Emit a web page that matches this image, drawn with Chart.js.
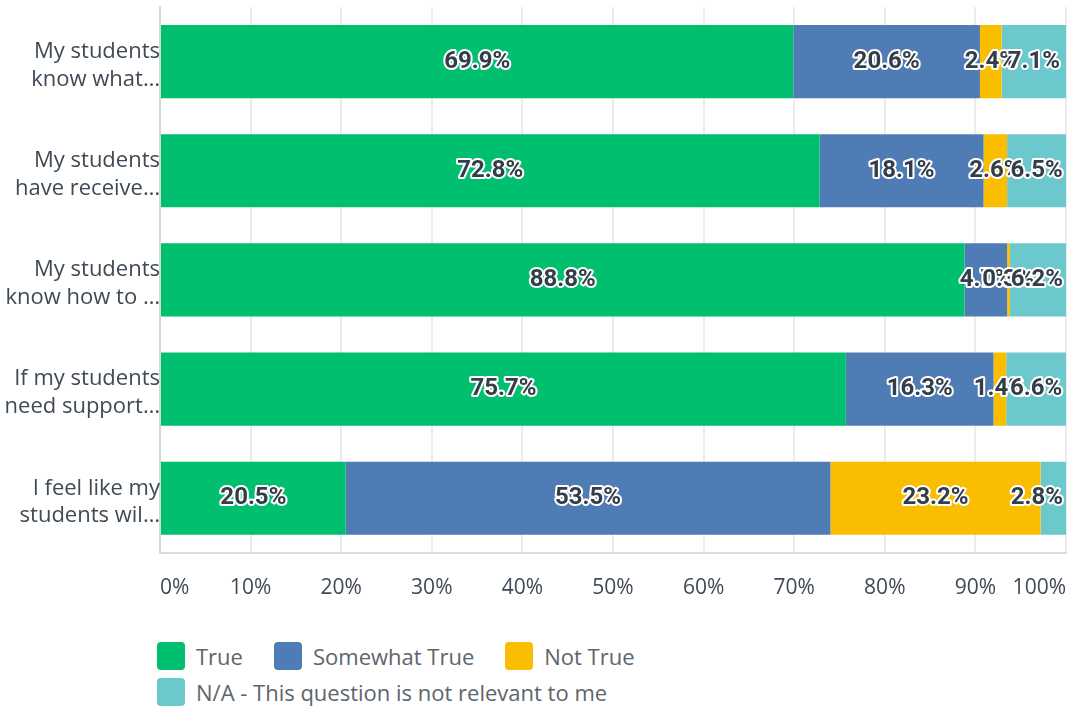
<!DOCTYPE html>
<html>
<head>
<meta charset="utf-8">
<script src="https://cdn.jsdelivr.net/npm/chart.js@4"></script>
<style>
    body { margin: 0; background: #fff; font-family: "Open Sans", sans-serif; }
    #wrap { position: relative; width: 1070px; height: 708px; }
    #chartBox { position: absolute; left: 0; top: 0; width: 1070px; height: 624px; }
    #legend { position: absolute; left: 157px; top: 641px; width: 520px; display: flex; flex-wrap: wrap; column-gap: 31px; row-gap: 7px; }
    .item { display: flex; align-items: center; height: 29px; font-size: 22px; color: #5d656d; }
    .swatch { width: 28px; height: 28px; border-radius: 4px; margin-right: 11px; }
</style>
</head>
<body>
<div id="wrap">
    <div id="chartBox"><canvas id="surveyChart"></canvas></div>
    <div id="legend"></div>
</div>
<script>
// Chart data
const questions = [
    ['My students', 'know what…'],
    ['My students', 'have receive…'],
    ['My students', 'know how to …'],
    ['If my students', 'need support…'],
    ['I feel like my', 'students wil…']
];
const answerLabels = ['True', 'Somewhat True', 'Not True', 'N/A - This question is not relevant to me'];
const trueValues = [69.9, 72.8, 88.8, 75.7, 20.5];
const somewhatValues = [20.6, 18.1, 4.7, 16.3, 53.5];
const notTrueValues = [2.4, 2.6, 0.3, 1.4, 23.2];
const naValues = [7.1, 6.5, 6.2, 6.6, 2.8];
const answerColors = ['#00bf6f', '#507cb6', '#f9be00', '#6bc8cd'];
const xTicks = [0, 10, 20, 30, 40, 50, 60, 70, 80, 90, 100];

// Draw percentage labels centred on each segment (kept inside the canvas)
const segmentLabels = {
    id: 'segmentLabels',
    afterDatasetsDraw(chart) {
        const ctx = chart.ctx;
        ctx.save();
        ctx.font = 'bold 24px Roboto, sans-serif';
        ctx.textAlign = 'center';
        ctx.textBaseline = 'middle';
        ctx.lineJoin = 'round';
        chart.data.datasets.forEach((ds, i) => {
            const meta = chart.getDatasetMeta(i);
            meta.data.forEach((bar, j) => {
                const text = ds.data[j].toFixed(1) + '%';
                const half = ctx.measureText(text).width / 2;
                const x = Math.min((bar.x + bar.base) / 2, chart.width - half - 7);
                ctx.lineWidth = 4;
                ctx.strokeStyle = '#ffffff';
                ctx.strokeText(text, x, bar.y);
                ctx.fillStyle = '#333e48';
                ctx.fillText(text, x, bar.y);
            });
        });
        ctx.restore();
    }
};

function buildDatasets() {
    const series = [trueValues, somewhatValues, notTrueValues, naValues];
    return series.map((values, i) => ({
        label: answerLabels[i],
        data: values,
        backgroundColor: answerColors[i],
        borderWidth: 0,
        barPercentage: 1,
        categoryPercentage: 0.67
    }));
}

function renderChart() {
    const ctx = document.getElementById('surveyChart').getContext('2d');
    new Chart(ctx, {
        type: 'bar',
        data: {
            labels: questions,
            datasets: buildDatasets()
        },
        options: {
            indexAxis: 'y',
            responsive: true,
            maintainAspectRatio: false,
            animation: false,
            layout: { padding: { top: 7, right: 4, bottom: 0, left: 0 } },
            plugins: {
                legend: { display: false },
                tooltip: { enabled: false }
            },
            scales: {
                x: {
                    stacked: true,
                    min: 0,
                    max: 100,
                    afterBuildTicks: scale => { scale.ticks = xTicks.map(v => ({ value: v })); },
                    afterFit: scale => { scale.paddingLeft = 0; scale.paddingRight = 0; },
                    grid: { color: '#ececec', lineWidth: 2, drawTicks: false },
                    border: { color: '#dcdcdc', width: 2 },
                    ticks: {
                        align: 'inner',
                        padding: 23,
                        color: '#3f4a54',
                        font: { family: 'Open Sans', size: 21 },
                        callback: v => v + '%'
                    }
                },
                y: {
                    stacked: true,
                    afterFit: scale => {
                        scale.width = 160;
                        scale.paddingTop = 0;
                        scale.paddingBottom = 0;
                    },
                    grid: { display: false, drawTicks: false },
                    border: { color: '#d6d6d6', width: 2 },
                    ticks: {
                        padding: 0,
                        labelOffset: 4,
                        color: '#3f4a54',
                        font: { family: 'Open Sans', size: 22, lineHeight: 1.27 }
                    }
                }
            }
        },
        plugins: [segmentLabels]
    });
}

// HTML legend so that it wraps like the original
function renderLegend() {
    const legendEl = document.getElementById('legend');
    answerLabels.forEach((label, i) => {
        const item = document.createElement('div');
        item.className = 'item';
        const swatch = document.createElement('span');
        swatch.className = 'swatch';
        swatch.style.background = answerColors[i];
        const text = document.createElement('span');
        text.textContent = label;
        item.appendChild(swatch);
        item.appendChild(text);
        legendEl.appendChild(item);
    });
}

renderChart();
renderLegend();
</script>
</body>
</html>
